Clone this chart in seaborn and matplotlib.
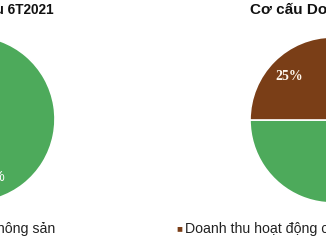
import matplotlib
matplotlib.use("Agg")
import matplotlib.pyplot as plt
import seaborn as sns

sns.set_theme(style="white")
plt.rcParams['font.family'] = ['Liberation Sans', 'DejaVu Sans']

# ---- data ----
left_title = "Cơ cấu doanh thu 6T2021"
left_labels = ["Doanh thu kinh doanh nông sản", "Doanh thu khác"]
left_values = [90, 10]

right_title = "Cơ cấu Doanh thu Q2/2021"
right_labels = ["Doanh thu kinh doanh nông sản", "Doanh thu hoạt động cho thuê"]
right_values = [75, 25]

GREEN = "#4DAA5B"
BROWN = "#7A3E17"

W, H = 326, 245
fig = plt.figure(figsize=(W / 100, H / 100), dpi=100)
fig.patch.set_facecolor("white")


def pie_axes(cx, cy, r):
    return fig.add_axes([(cx - r) / W, (H - cy - r) / H, 2 * r / W, 2 * r / H])


# left pie (mostly off canvas)
ax1 = pie_axes(-28, 119, 83)
ax1.pie(left_values, colors=[GREEN, BROWN], startangle=90, counterclock=False,
        autopct="%d%%", pctdistance=0.74,
        wedgeprops=dict(edgecolor="white", linewidth=1.2),
        textprops=dict(color="white", fontsize=10, family="Liberation Sans"))
ax1.set_xlim(-1, 1)
ax1.set_ylim(-1, 1)
ax1.set_axis_off()

# right pie
ax2 = pie_axes(333, 120, 83)
ax2.pie(right_values, colors=[GREEN, BROWN], startangle=90, counterclock=False,
        autopct="%d%%", pctdistance=0.74,
        wedgeprops=dict(edgecolor="white", linewidth=1.2),
        textprops=dict(color="#FFF8EE", fontsize=10, fontweight="bold",
                       family="Liberation Serif"))
ax2.set_xlim(-1, 1)
ax2.set_ylim(-1, 1)
ax2.set_axis_off()

# titles
fig.text(54 / W, 1 - 10 / H, left_title, ha="right", va="center",
         fontsize=9.8, fontweight="bold", color="#111111")
fig.text(250 / W, 1 - 10 / H, right_title, ha="left", va="center",
         fontsize=11, fontweight="bold", color="#111111")

# legends
fig.text(55 / W, 1 - 229 / H, "■ " + left_labels[0], ha="right", va="center",
         fontsize=10.2, color="#222222")
fig.text(176 / W, 1 - 228.5 / H, "■", ha="left", va="center",
         fontsize=7, color=BROWN)
fig.text(185 / W, 1 - 229 / H, right_labels[1], ha="left", va="center",
         fontsize=10.2, color="#222222")

fig.savefig("out.png", dpi=100, facecolor="white")
